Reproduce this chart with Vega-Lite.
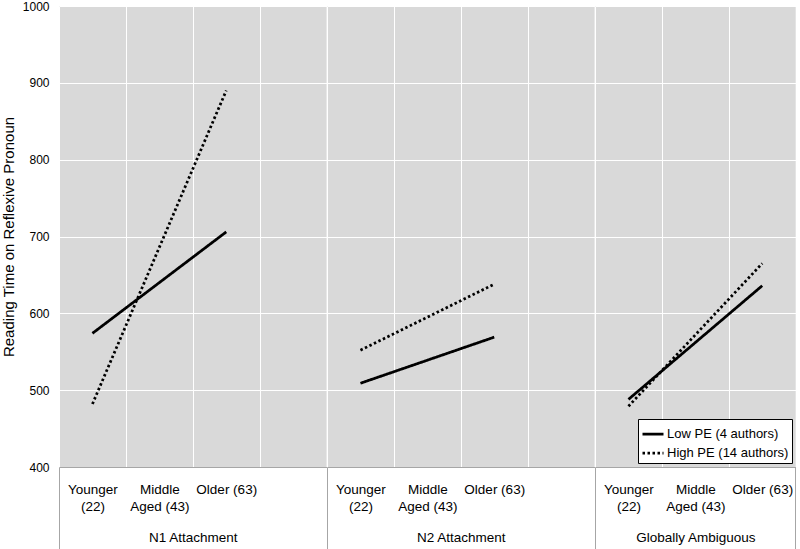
{
  "$schema": "https://vega.github.io/schema/vega-lite/v6.json",
  "padding": {"left": 1, "top": 0, "right": 0, "bottom": 0},
  "bounds": "flush",
  "spacing": 0,
  "config": {
    "font": "Liberation Sans",
    "view": {"fill": "#d9d9d9", "stroke": null},
    "axis": {
      "labelFont": "Liberation Sans",
      "titleFont": "Liberation Sans",
      "labelColor": "#000000",
      "titleColor": "#000000",
      "titleFontWeight": "normal",
      "gridColor": "#ffffff",
      "gridOpacity": 1,
      "gridWidth": 1,
      "domainColor": "#a6a6a6",
      "tickColor": "#a6a6a6"
    },
    "line": {"color": "#000000", "strokeWidth": 2.75, "strokeCap": "butt"}
  },
  "datasets": {
    "rt": [
      {"group": "N1 Attachment", "series": "Low PE (4 authors)", "age": "Younger (22)", "rt": 574},
      {"group": "N1 Attachment", "series": "Low PE (4 authors)", "age": "Older (63)", "rt": 706},
      {"group": "N1 Attachment", "series": "High PE (14 authors)", "age": "Younger (22)", "rt": 482},
      {"group": "N1 Attachment", "series": "High PE (14 authors)", "age": "Older (63)", "rt": 890},
      {"group": "N2 Attachment", "series": "Low PE (4 authors)", "age": "Younger (22)", "rt": 509},
      {"group": "N2 Attachment", "series": "Low PE (4 authors)", "age": "Older (63)", "rt": 569},
      {"group": "N2 Attachment", "series": "High PE (14 authors)", "age": "Younger (22)", "rt": 552},
      {"group": "N2 Attachment", "series": "High PE (14 authors)", "age": "Older (63)", "rt": 638},
      {"group": "Globally Ambiguous", "series": "Low PE (4 authors)", "age": "Younger (22)", "rt": 488},
      {"group": "Globally Ambiguous", "series": "Low PE (4 authors)", "age": "Older (63)", "rt": 636},
      {"group": "Globally Ambiguous", "series": "High PE (14 authors)", "age": "Younger (22)", "rt": 479},
      {"group": "Globally Ambiguous", "series": "High PE (14 authors)", "age": "Older (63)", "rt": 665}
    ]
  },
  "resolve": {
    "scale": {"x": "independent", "y": "shared", "strokeDash": "independent"},
    "legend": {"strokeDash": "independent"}
  },
  "hconcat": [
    {
      "width": {"step": 66.9},
      "height": 461,
      "data": {"name": "rt"},
      "transform": [{"filter": "datum.group === 'N1 Attachment'"}],
      "layer": [
        {
          "mark": {"type": "line"},
          "encoding": {
            "x": {
              "field": "age", "type": "nominal",
              "scale": {"type": "band", "domain": ["Younger (22)", "Middle Aged (43)", "Older (63)", " "], "paddingInner": 0, "paddingOuter": 0},
              "axis": {"orient": "bottom", "grid": true, "tickBand": "extent", "ticks": false, "domain": true, "labelAngle": 0, "labelFontSize": 13.5, "labelPadding": 15, "labelLineHeight": 17, "labelOverlap": false,
                "labelExpr": "datum.label == 'Younger (22)' ? ['Younger', '(22)'] : datum.label == 'Middle Aged (43)' ? ['Middle', 'Aged (43)'] : datum.label",
                "title": "N1 Attachment", "titleFontSize": 13.5, "titlePadding": 18}
            },
            "y": {
              "field": "rt", "type": "quantitative",
              "scale": {"domain": [400, 1000], "nice": false, "zero": false},
              "axis": {"values": [400, 500, 600, 700, 800, 900, 1000], "format": "d", "grid": true, "ticks": false, "domain": false, "labelFontSize": 12, "labelPadding": 10, "title": "Reading Time on Reflexive Pronoun", "titleFontSize": 15, "titlePadding": 6}
            },
            "strokeDash": {
              "field": "series", "type": "nominal",
              "scale": {"domain": ["Low PE (4 authors)", "High PE (14 authors)"], "range": [[1, 0], [2.5, 2.5]]},
              "legend": null
            }
          }
        },
        {
          "mark": {"type": "point", "opacity": 0},
          "encoding": {
            "x": {
              "field": "age", "type": "nominal",
              "scale": {"type": "band", "domain": ["Younger (22)", "Middle Aged (43)", "Older (63)", " "], "paddingInner": 0, "paddingOuter": 0},
              "axis": {"orient": "bottom", "values": ["Younger (22)"], "bandPosition": 0, "grid": false, "labels": false, "domain": false, "ticks": true, "tickSize": 82, "tickWidth": 1, "title": null}
            }
          }
        }
      ],
      "resolve": {"axis": {"x": "independent"}}
    },
    {
      "width": {"step": 66.9},
      "height": 461,
      "data": {"name": "rt"},
      "transform": [{"filter": "datum.group === 'N2 Attachment'"}],
      "layer": [
        {
          "mark": {"type": "line"},
          "encoding": {
            "x": {
              "field": "age", "type": "nominal",
              "scale": {"type": "band", "domain": ["Younger (22)", "Middle Aged (43)", "Older (63)", " "], "paddingInner": 0, "paddingOuter": 0},
              "axis": {"orient": "bottom", "grid": true, "tickBand": "extent", "ticks": false, "domain": true, "labelAngle": 0, "labelFontSize": 13.5, "labelPadding": 15, "labelLineHeight": 17, "labelOverlap": false,
                "labelExpr": "datum.label == 'Younger (22)' ? ['Younger', '(22)'] : datum.label == 'Middle Aged (43)' ? ['Middle', 'Aged (43)'] : datum.label",
                "title": "N2 Attachment", "titleFontSize": 13.5, "titlePadding": 18}
            },
            "y": {
              "field": "rt", "type": "quantitative",
              "scale": {"domain": [400, 1000], "nice": false, "zero": false},
              "axis": {"values": [400, 500, 600, 700, 800, 900, 1000], "grid": true, "ticks": false, "domain": false, "labels": false, "title": null}
            },
            "strokeDash": {
              "field": "series", "type": "nominal",
              "scale": {"domain": ["Low PE (4 authors)", "High PE (14 authors)"], "range": [[1, 0], [2.5, 2.5]]},
              "legend": null
            }
          }
        },
        {
          "mark": {"type": "point", "opacity": 0},
          "encoding": {
            "x": {
              "field": "age", "type": "nominal",
              "scale": {"type": "band", "domain": ["Younger (22)", "Middle Aged (43)", "Older (63)", " "], "paddingInner": 0, "paddingOuter": 0},
              "axis": {"orient": "bottom", "values": ["Younger (22)"], "bandPosition": 0, "grid": false, "labels": false, "domain": false, "ticks": true, "tickSize": 82, "tickWidth": 1, "title": null}
            }
          }
        }
      ],
      "resolve": {"axis": {"x": "independent"}}
    },
    {
      "width": {"step": 66.9},
      "height": 461,
      "data": {"name": "rt"},
      "transform": [{"filter": "datum.group === 'Globally Ambiguous'"}],
      "layer": [
        {
          "mark": {"type": "line"},
          "encoding": {
            "x": {
              "field": "age", "type": "nominal",
              "scale": {"type": "band", "domain": ["Younger (22)", "Middle Aged (43)", "Older (63)"], "paddingInner": 0, "paddingOuter": 0},
              "axis": {"orient": "bottom", "grid": true, "tickBand": "extent", "ticks": false, "domain": true, "labelAngle": 0, "labelFontSize": 13.5, "labelPadding": 15, "labelLineHeight": 17, "labelOverlap": false,
                "labelExpr": "datum.label == 'Younger (22)' ? ['Younger', '(22)'] : datum.label == 'Middle Aged (43)' ? ['Middle', 'Aged (43)'] : datum.label",
                "title": "Globally Ambiguous", "titleFontSize": 13.5, "titlePadding": 18}
            },
            "y": {
              "field": "rt", "type": "quantitative",
              "scale": {"domain": [400, 1000], "nice": false, "zero": false},
              "axis": {"values": [400, 500, 600, 700, 800, 900, 1000], "grid": true, "ticks": false, "domain": false, "labels": false, "title": null}
            },
            "strokeDash": {
              "field": "series", "type": "nominal",
              "scale": {"domain": ["Low PE (4 authors)", "High PE (14 authors)"], "range": [[1, 0], [2.5, 2.5]]},
              "legend": {"orient": "bottom-right", "title": null, "offset": 4, "fillColor": "#ffffff", "strokeColor": "#000000", "padding": 3, "symbolType": "stroke", "symbolSize": 441, "symbolStrokeWidth": 2.5, "symbolStrokeColor": "#000000", "labelFontSize": 13, "labelColor": "#000000", "labelOffset": 2, "rowPadding": 0}
            }
          }
        },
        {
          "mark": {"type": "point", "opacity": 0},
          "encoding": {
            "x": {
              "field": "age", "type": "nominal",
              "scale": {"type": "band", "domain": ["Younger (22)", "Middle Aged (43)", "Older (63)"], "paddingInner": 0, "paddingOuter": 0},
              "axis": {"orient": "bottom", "values": ["Younger (22)"], "bandPosition": 0, "grid": false, "labels": false, "domain": false, "ticks": true, "tickSize": 82, "tickWidth": 1, "title": null}
            }
          }
        },
        {
          "mark": {"type": "point", "opacity": 0},
          "encoding": {
            "x": {
              "field": "age", "type": "nominal",
              "scale": {"type": "band", "domain": ["Younger (22)", "Middle Aged (43)", "Older (63)"], "paddingInner": 0, "paddingOuter": 0},
              "axis": {"orient": "bottom", "values": ["Older (63)"], "bandPosition": 1, "grid": false, "labels": false, "domain": false, "ticks": true, "tickSize": 82, "tickWidth": 1, "title": null}
            }
          }
        }
      ],
      "resolve": {"axis": {"x": "independent"}}
    }
  ]
}
